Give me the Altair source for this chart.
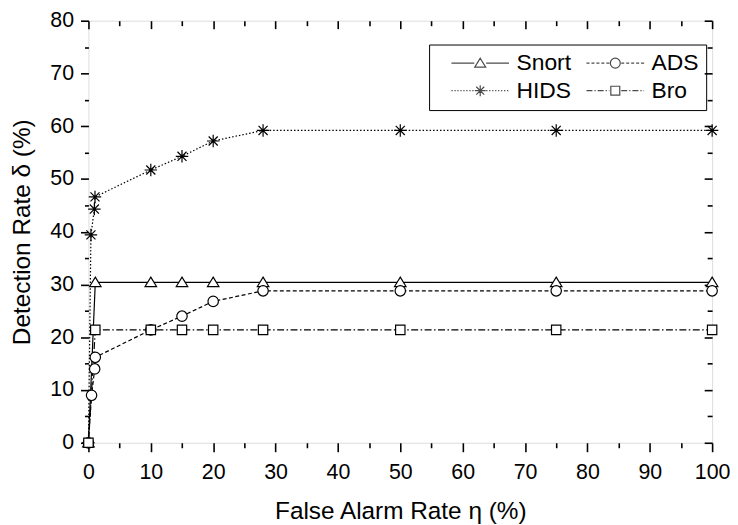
import altair as alt
import pandas as pd

series_names = ["Snort", "ADS", "HIDS", "Bro"]
legend_order = ["Snort", "HIDS", "ADS", "Bro"]

snort_x = [0, 1.1, 10, 15, 20, 28, 50, 75, 100]
snort_y = [0, 30.4, 30.4, 30.4, 30.4, 30.4, 30.4, 30.4, 30.4]

ads_x = [0, 0.5, 1.0, 1.1, 10, 15, 20, 28, 50, 75, 100]
ads_y = [0, 9.0, 14.0, 16.2, 21.4, 24.0, 26.8, 28.8, 28.8, 28.8, 28.8]

hids_x = [0, 0.4, 0.95, 1.05, 10, 15, 20, 28, 50, 75, 100]
hids_y = [0, 39.4, 44.3, 46.6, 51.7, 54.3, 57.2, 59.2, 59.2, 59.2, 59.2]

bro_x = [0, 1.1, 10, 15, 20, 28, 50, 75, 100]
bro_y = [0, 21.4, 21.4, 21.4, 21.4, 21.4, 21.4, 21.4, 21.4]

x_major = list(range(0, 101, 10))
x_minor = list(range(5, 100, 10))
y_major = list(range(0, 81, 10))
y_minor = list(range(5, 80, 10))

rows = []
for name, xs, ys in [("Snort", snort_x, snort_y), ("ADS", ads_x, ads_y),
                     ("HIDS", hids_x, hids_y), ("Bro", bro_x, bro_y)]:
    for i, (a, b) in enumerate(zip(xs, ys)):
        rows.append({"series": name, "x": a, "y": b, "order": i})
df = pd.DataFrame(rows)

FONT = "Liberation Sans"
xscale = alt.Scale(domain=[0, 100], nice=False, zero=False)
yscale = alt.Scale(domain=[0, 80], nice=False, zero=False)

# marker shapes (unit coordinates)
tri = "M0,-1L1.1,0.8L-1.1,0.8Z"
circ = "M1,0A1,1 0 1,1 -1,0A1,1 0 1,1 1,0Z"
sq = "M-0.9,-0.9L0.9,-0.9L0.9,0.9L-0.9,0.9Z"
star = "M0,-1.1L0,1.1M-1.1,0L1.1,0M-0.8,-0.8L0.8,0.8M-0.8,0.8L0.8,-0.8"

dashes = {"Snort": [1, 0], "ADS": [4, 2.5], "HIDS": [1.5, 2], "Bro": [7, 2.5, 1.5, 2.5]}
markers = {"Snort": tri, "ADS": circ, "HIDS": star, "Bro": sq}
legend_dash = {"Snort": [(10, 0)], "ADS": [(0.6, 0.4)], "HIDS": [(0.25, 0.35)],
               "Bro": [(1.2, 0.4), (0.25, 0.4)]}


def seg_line(x0, x1, pattern):
    out = []
    p = x0
    k = 0
    while p < x1:
        on, off = pattern[k % len(pattern)]
        e = min(p + on, x1)
        out.append(f"M{p:.2f},0L{e:.2f},0")
        p = e + off
        k += 1
    return "".join(out)


def legend_path(marker, pattern):
    return seg_line(-5.8, -1.2, pattern) + seg_line(1.2, 5.8, pattern) + marker


legend_paths = [legend_path(markers[n], legend_dash[n]) for n in legend_order]


def axis(orient, values, size, labels=False, title=None, offset=0,
         label_pad=4, title_pad=4):
    kw = dict(orient=orient, values=values, tickSize=size, labels=labels,
              domain=False, grid=False, tickColor="black", tickWidth=1.6,
              offset=offset)
    if labels:
        kw.update(labelFont=FONT, labelFontSize=21.5, labelColor="black",
                  labelPadding=label_pad, labelFlush=False, title=title,
                  titleFont=FONT, titleFontSize=24.5, titleFontWeight="normal",
                  titleColor="black", titlePadding=title_pad)
    else:
        kw.update(title=None)
    return alt.Axis(**kw)


axes_cfg = {
    "Snort": (axis("bottom", x_major, 9, True, "False Alarm Rate η (%)", label_pad=10, title_pad=17),
              axis("left", y_major, 8, True, "Detection Rate δ (%)", label_pad=7, title_pad=15)),
    "ADS": (axis("bottom", x_minor, 5), axis("left", y_minor, 4)),
    "HIDS": (axis("top", x_major, 8, offset=-8), axis("right", y_major, 8, offset=-8)),
    "Bro": (axis("top", x_minor, 5, offset=-5), axis("right", y_minor, 5, offset=-5)),
}

base = alt.Chart(df)
layers = []
for name in series_names:
    sub = base.transform_filter(alt.datum.series == name)
    ax_x, ax_y = axes_cfg[name]
    layers.append(
        sub.mark_line(color="black", strokeWidth=1.2, strokeDash=dashes[name]).encode(
            x=alt.X("x:Q", scale=xscale, axis=ax_x),
            y=alt.Y("y:Q", scale=yscale, axis=ax_y),
            order="order:Q",
        )
    )
for name in series_names:
    sub = base.transform_filter(alt.datum.series == name)
    layers.append(
        sub.mark_point(shape=markers[name], filled=True, fill="white", stroke="black",
                       strokeWidth=1.2, size=110 if name != "HIDS" else 130, opacity=1)
        .encode(x=alt.X("x:Q", scale=xscale, axis=None),
                y=alt.Y("y:Q", scale=yscale, axis=None))
    )

# legend-only layer: points pushed far outside the plot and clipped away
legend_layer = base.transform_calculate(yoff="datum.y - 1000").mark_point(
    filled=False, stroke="black", strokeWidth=1.2, clip=True
).encode(
    x=alt.X("x:Q", scale=xscale, axis=None),
    y=alt.Y("yoff:Q", scale=yscale, axis=None),
    shape=alt.Shape("series:N", scale=alt.Scale(domain=legend_order, range=legend_paths),
                    legend=alt.Legend(
                        title=None, orient="none", legendX=343, legendY=24,
                        columns=2, strokeColor="black", padding=7,
                        labelFont=FONT, labelFontSize=23, labelColor="black",
                        labelExpr="(datum.label == 'ADS' || datum.label == 'Bro') ? datum.label + '   ' : datum.label",
                        symbolSize=100, symbolStrokeColor="black",
                        symbolStrokeWidth=1.2, labelOffset=25,
                        symbolOffset=33, columnPadding=0, rowPadding=4,
                    )),
)
layers.append(legend_layer)

chart = alt.layer(*layers).resolve_axis(
    x="independent", y="independent"
).properties(
    width=628, height=425,
    autosize=alt.AutoSizeParams(type="none"),
    padding={"left": 81, "top": 11, "right": 18, "bottom": 80},
).configure_view(stroke="black", strokeWidth=2).configure(background="white")

chart.save("out.html", embed_options={"renderer": "svg", "actions": False})
